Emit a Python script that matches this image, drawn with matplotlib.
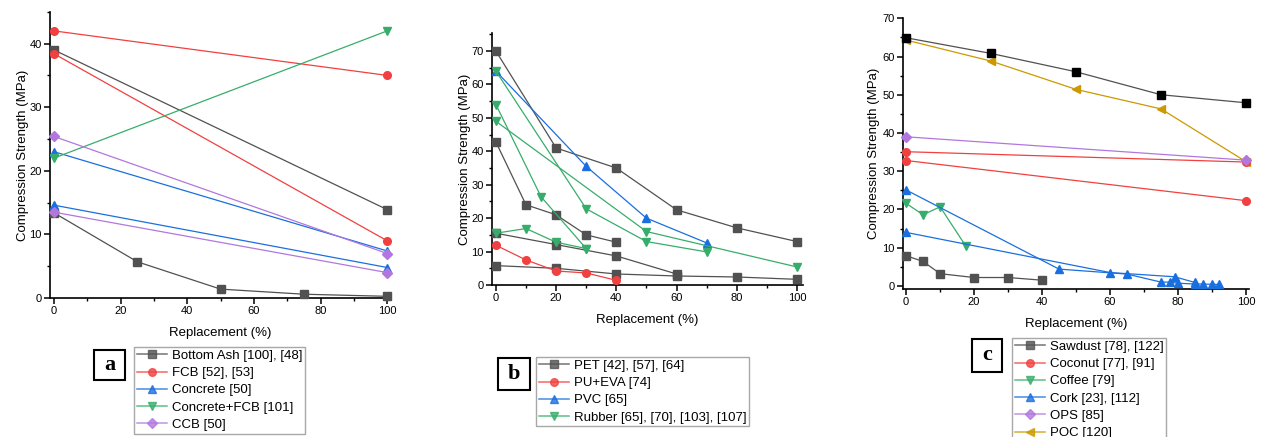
"""Compression strength vs replacement level for three groups of waste materials."""

import matplotlib.pyplot as plt
from matplotlib.lines import Line2D
from matplotlib.patches import Rectangle
from matplotlib.ticker import MultipleLocator

plt.rcParams["font.family"] = ["Liberation Sans", "DejaVu Sans"]

# Origin-style palette
GRAY = "#515151"
RED = "#F14040"
BLUE = "#1A6FDF"
GREEN = "#37AD6B"
PURPLE = "#B177DE"
GOLD = "#CC9900"

# ---- panel a ----
ash_x = [[0, 100], [0, 25, 50, 75, 100]]
ash_y = [[39.0, 13.9], [13.4, 5.7, 1.4, 0.6, 0.27]]
fcb_x = [[0, 100], [0, 100]]
fcb_y = [[42.0, 35.0], [38.4, 9.0]]
concrete_x = [[0, 100], [0, 100]]
concrete_y = [[23.0, 7.4], [14.6, 4.8]]
concrete_fcb_x = [[0, 100]]
concrete_fcb_y = [[22.0, 42.0]]
ccb_x = [[0, 100], [0, 100]]
ccb_y = [[25.4, 7.0], [13.5, 4.0]]
a_labels = ["Bottom Ash [100], [48]", "FCB [52], [53]", "Concrete [50]",
            "Concrete+FCB [101]", "CCB [50]"]

# ---- panel b ----
pet_x = [[0, 20, 40, 60, 80, 100], [0, 10, 20, 30, 40],
         [0, 20, 40, 60], [0, 20, 40, 60, 80, 100]]
pet_y = [[70.0, 41.0, 35.0, 22.5, 17.1, 13.0], [42.8, 24.0, 21.0, 15.0, 12.8],
         [15.5, 12.1, 8.7, 3.3], [5.8, 5.0, 3.3, 2.7, 2.4, 1.7]]
pu_eva_x = [[0, 10, 20, 30, 40]]
pu_eva_y = [[11.9, 7.5, 4.2, 3.6, 1.4]]
pvc_x = [[0, 30, 50, 70]]
pvc_y = [[64.0, 35.5, 20.0, 12.6]]
rubber_x = [[0, 30, 50, 70], [0, 15, 30], [0, 50, 100], [0, 10, 20, 30]]
rubber_y = [[64.0, 22.8, 13.0, 9.9], [54.0, 26.4, 10.9], [49.0, 16.0, 5.4],
            [15.5, 16.9, 12.8, 10.9]]
b_labels = ["PET [42], [57], [64]", "PU+EVA [74]", "PVC [65]",
            "Rubber [65], [70], [103], [107]"]

# ---- panel c ----
sawdust_x = [[0, 5, 10, 20, 30, 40]]
sawdust_y = [[7.9, 6.4, 3.2, 2.2, 2.2, 1.5]]
sawdust_black_x = [[0, 25, 50, 75, 100]]
sawdust_black_y = [[64.9, 60.8, 56.0, 50.0, 47.9]]
coconut_x = [[0, 100], [0, 100]]
coconut_y = [[35.1, 32.4], [32.8, 22.3]]
coffee_x = [[0, 5, 10, 17.5]]
coffee_y = [[21.6, 18.6, 20.7, 10.5]]
cork_x = [[0, 45, 65, 75, 77.5, 80, 85, 87.5, 90, 92],
          [0, 60, 79, 85]]
cork_y = [[25.1, 4.4, 3.1, 1.0, 1.0, 0.7, 0.5, 0.5, 0.4, 0.4],
          [14.0, 3.5, 2.4, 0.9]]
ops_x = [[0, 100]]
ops_y = [[39.0, 32.9]]
poc_x = [[0, 25, 50, 75, 100]]
poc_y = [[64.3, 58.8, 51.4, 46.3, 32.5]]
c_labels = ["Sawdust [78], [122]", "Coconut [77], [91]", "Coffee [79]",
            "Cork [23], [112]", "OPS [85]", "POC [120]"]


def draw_series(ax, xs, ys, color, marker, mfc=None):
    """Draw every segment of one material with the same style."""
    for x, y in zip(xs, ys):
        ax.plot(x, y, color=color, lw=0.9, marker=marker, ms=5.5,
                mfc=mfc or color, mec=mfc or color, clip_on=False, zorder=3)


def style_axes(ax, xlim, ylim, ymajor, ypad):
    """Origin-like axes: left/bottom spines only, outward ticks."""
    for side in ("top", "right"):
        ax.spines[side].set_visible(False)
    for side in ("left", "bottom"):
        ax.spines[side].set_linewidth(1.2)
    ax.set_xlim(*xlim)
    ax.set_ylim(*ylim)
    ax.xaxis.set_major_locator(MultipleLocator(20))
    ax.xaxis.set_minor_locator(MultipleLocator(10))
    ax.yaxis.set_major_locator(MultipleLocator(ymajor))
    ax.yaxis.set_minor_locator(MultipleLocator(ymajor / 2))
    ax.tick_params(which="major", direction="out", length=4, width=1.1,
                   labelsize=8, pad=2)
    ax.tick_params(which="minor", direction="out", length=2.2, width=1.0)
    ax.set_ylabel("Compression Strength (MPa)", fontsize=9.5, labelpad=ypad)


def add_legend(fig, colors, markers, labels, anchor):
    handles = [Line2D([], [], color=c, marker=m, ms=5.5, lw=1.1, alpha=0.8)
               for c, m in zip(colors, markers)]
    fig.legend(handles, labels, loc="upper left", bbox_to_anchor=anchor,
               borderaxespad=0, fontsize=9.5, frameon=True, fancybox=False,
               edgecolor="#a8a8a8", framealpha=1, borderpad=0.2,
               labelspacing=0.38, handlelength=2.3, handletextpad=0.35)


def add_panel_tag(fig, letter, x, y, w, h):
    W, H = 1266, 437
    fig.patches.append(Rectangle((x / W, 1 - (y + h) / H), w / W, h / H,
                                 transform=fig.transFigure, fill=False,
                                 lw=1.5, ec="black"))
    fig.text((x + w / 2) / W, 1 - (y + h / 2) / H, letter,
             family=["Liberation Serif", "DejaVu Serif"], weight="bold",
             fontsize=16, ha="center", va="center")


fig = plt.figure(figsize=(12.66, 4.37), dpi=100)

# panel a
ax_a = fig.add_axes([0.0395, 0.318, 0.269, 0.655])
draw_series(ax_a, ash_x, ash_y, GRAY, "s")
draw_series(ax_a, fcb_x, fcb_y, RED, "o")
draw_series(ax_a, concrete_x, concrete_y, BLUE, "^")
draw_series(ax_a, concrete_fcb_x, concrete_fcb_y, GREEN, "v")
draw_series(ax_a, ccb_x, ccb_y, PURPLE, "D")
style_axes(ax_a, (-1.2, 101), (0, 45), 10, 0.5)
ax_a.set_xlabel("Replacement (%)", fontsize=9.5, labelpad=8)

# panel b
ax_b = fig.add_axes([0.3886, 0.3478, 0.2457, 0.5767])
draw_series(ax_b, pet_x, pet_y, GRAY, "s")
draw_series(ax_b, pu_eva_x, pu_eva_y, RED, "o")
draw_series(ax_b, pvc_x, pvc_y, BLUE, "^")
draw_series(ax_b, rubber_x, rubber_y, GREEN, "v")
style_axes(ax_b, (-1.3, 102), (0, 75.4), 10, 0.5)
ax_b.set_xlabel("Replacement (%)", fontsize=9.5, labelpad=8)

# panel c
ax_c = fig.add_axes([0.7133, 0.3387, 0.2733, 0.6195])
draw_series(ax_c, poc_x, poc_y, GOLD, "<")
draw_series(ax_c, sawdust_x, sawdust_y, GRAY, "s")
draw_series(ax_c, sawdust_black_x, sawdust_black_y, GRAY, "s", mfc="black")
draw_series(ax_c, coconut_x, coconut_y, RED, "o")
draw_series(ax_c, coffee_x, coffee_y, GREEN, "v")
draw_series(ax_c, cork_x, cork_y, BLUE, "^")
draw_series(ax_c, ops_x, ops_y, PURPLE, "D")
style_axes(ax_c, (-0.9, 100.9), (-0.8, 70), 10, 1.5)
ax_c.set_xlabel("Replacement (%)", fontsize=9.5, labelpad=8)

add_legend(fig, [GRAY, RED, BLUE, GREEN, PURPLE], ["s", "o", "^", "v", "D"],
           a_labels, (0.1058, 0.2059))
add_legend(fig, [GRAY, RED, BLUE, GREEN], ["s", "o", "^", "v"],
           b_labels, (0.4234, 0.183))
add_legend(fig, [GRAY, RED, GREEN, BLUE, PURPLE, GOLD],
           ["s", "o", "v", "^", "D", "<"], c_labels, (0.7994, 0.2265))

add_panel_tag(fig, "a", 94, 350, 31, 30)
add_panel_tag(fig, "b", 498, 358, 32, 32)
add_panel_tag(fig, "c", 972, 339, 30, 33)

fig.savefig("out.png", dpi=100)
